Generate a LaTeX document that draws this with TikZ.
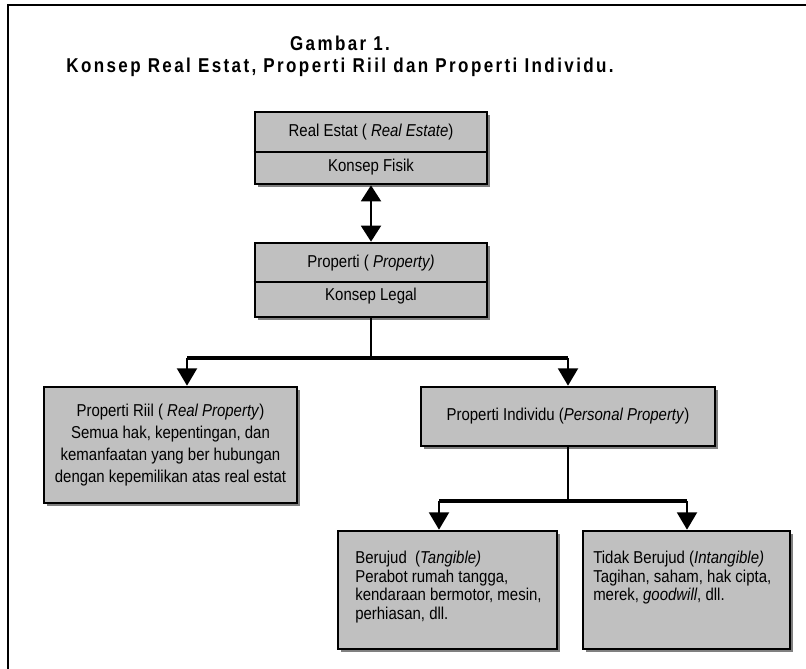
\documentclass[tikz,border=0pt]{standalone}
\usepackage{fontspec}
\setmainfont{Liberation Sans}[FakeStretch=0.87]
\newfontfamily\titlefont{Liberation Sans}[FakeStretch=0.85,LetterSpace=12]
\usetikzlibrary{arrows.meta,shadows}
\definecolor{boxgray}{HTML}{C0C0C0}
\definecolor{shadegray}{HTML}{808080}

\begin{document}
\begin{tikzpicture}[x=0.75pt,y=-0.75pt,
  font=\fontsize{12.9}{13.9}\selectfont,
  box/.style={draw,line width=2pt,fill=boxgray,inner sep=0pt,
    drop shadow={shadow xshift=2.6pt,shadow yshift=-2.6pt,fill=shadegray,opacity=1}},
  wire/.style={line width=1.5pt},
  bar/.style={line width=2.3pt},
  tip/.style={-{Triangle[length=13pt,width=15pt]}},
  both/.style={{Triangle[length=12pt,width=15pt]}-{Triangle[length=12pt,width=15pt]}},
  body/.style={anchor=north west,align=left,inner sep=0pt},
  heading/.style={font=\titlefont\bfseries\fontsize{15}{17}\selectfont}]
\useasboundingbox (0,0) rectangle (806,668);
\draw[line width=1.6pt] (8,690) -- (8,5) -- (830,5);

\node[heading] (G) at (340,43) {Gambar 1.};
\node[heading] (K) at (340,67) {Konsep Real Estat, Properti Riil dan Properti Individu.};

\node[box,minimum width=174pt,minimum height=54pt] (RE) at (371,148) {};
\node (REa) at (371,132) {Real Estat ( \textit{Real Estate})};
\node (REb) at (371,167) {Konsep Fisik};
\node[box,minimum width=174pt,minimum height=55.5pt] (P) at (371,280) {};
\node (Pa) at (371,263) {Properti ( \textit{Property)}};
\node (Pb) at (371,296) {Konsep Legal};
\node[box,align=center,minimum width=189.75pt,minimum height=87pt,
  font=\fontsize{12.9}{16.5}\selectfont] (PR) at (170.5,445) {Properti Riil ( \textit{Real Property})\\Semua hak, kepentingan, dan\\kemanfaatan yang ber hubungan\\dengan kepemilikan atas real estat};
\node[box,minimum width=220.5pt,minimum height=44.25pt] (PI) at (568,416.5) {Properti Individu (\textit{Personal Property})};
\node[box,minimum width=164.25pt,minimum height=88.5pt] (T) at (447.5,590) {};
\node[body] (Ta) at (355,551) {Berujud\ \ (\textit{Tangible)}\\Perabot rumah tangga,\\kendaraan bermotor, mesin,\\perhiasan, dll.};
\node[box,minimum width=155.25pt,minimum height=88.5pt] (I) at (686.5,590) {};
\node[body] (Ia) at (593,551) {Tidak Berujud (\textit{Intangible)}\\Tagihan, saham, hak cipta,\\merek, \textit{goodwill}, dll.};

\coordinate (s1) at (371,358);
\coordinate (hl) at (187,358);
\coordinate (hr) at (568,358);
\coordinate (s2) at (568,501);
\coordinate (ll) at (439,501);
\coordinate (lr) at (687,501);

\draw[line width=1pt] (RE.west |- 0,152) -- (RE.east |- 0,152);
\draw[line width=1pt] (P.west |- 0,282) -- (P.east |- 0,282);
\draw[wire,both] (RE) -- (P);
\draw[wire] (P) -- (s1);
\draw[bar] (hl) -- (hr);
\draw[wire,tip] (hl) -- (PR.north -| hl);
\draw[wire,tip] (hr) -- (PI);
\draw[wire] (PI) -- (s2);
\draw[bar] (ll) -- (lr);
\draw[wire,tip] (ll) -- (T.north -| ll);
\draw[wire,tip] (lr) -- (I.north -| lr);
\end{tikzpicture}
\end{document}
